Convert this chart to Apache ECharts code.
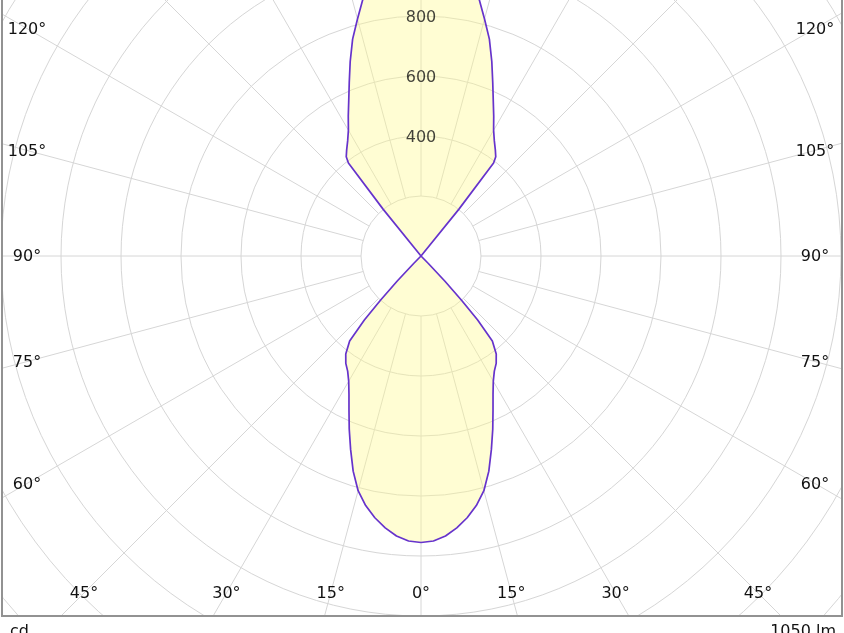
<!DOCTYPE html>
<html lang="en">
<head>
    <meta charset="UTF-8">
    <title>Polar intensity</title>
    <script src="https://cdn.jsdelivr.net/npm/echarts@6/dist/echarts.min.js"></script>
    <style>
        html, body {
            margin: 0;
            padding: 0;
            background: #fff;
        }

        #chart {
            width: 844px;
            height: 633px;
        }
    </style>
</head>
<body>
<div id="chart"></div>
<script>
    // gamma angle from nadir (deg) -> intensity (cd), lower lobe
    const gammaBottom = [0, 2.5, 5, 7.5, 10, 12.5, 15, 17.5, 20, 22.5, 25, 27.5, 30, 32.5, 35, 37.5, 40, 41.5, 42.5, 43.5, 44.5, 45];
    const cdBottom = [955, 951, 937, 914, 886, 852, 810, 752, 686, 625, 568, 520, 482, 455, 437, 412, 370, 285, 200, 115, 35, 0];
    // angle from zenith (deg) -> intensity (cd), upper lobe
    const gammaTop = [0, 2.5, 5, 7.5, 10, 12.5, 15, 17.5, 20, 22.5, 25, 27.5, 30, 32.5, 35, 37, 38, 39, 40];
    const cdTop = [1010, 1006, 995, 975, 950, 885, 818, 758, 690, 625, 570, 525, 484, 455, 432, 414, 393, 200, 0];

    const angleTicks = [0, 15, 30, 45, 60, 75, 90, 105, 120];
    const radiusTicks = [400, 600, 800];
    const unitLeft = 'cd';
    const unitRight = '1050 lm';

    const cx = 421, cy = 256;
    const font = 'DejaVu Sans';

    // closed outline, angle 0 = straight down
    const curve = [];
    gammaBottom.forEach((g, i) => curve.push([cdBottom[i], g]));
    for (let i = gammaTop.length - 1; i >= 0; i--) curve.push([cdTop[i], 180 - gammaTop[i]]);
    gammaTop.forEach((g, i) => curve.push([cdTop[i], 180 + g]));
    for (let i = gammaBottom.length - 1; i >= 0; i--) curve.push([cdBottom[i], 360 - gammaBottom[i]]);

    // angle labels sit on their spoke, where it meets the inner edge of the frame
    const labels = [];
    angleTicks.forEach(a => {
        const sides = a === 0 ? [1] : [-1, 1];
        sides.forEach(s => {
            const dx = Math.sin(a * Math.PI / 180) * s;
            const dy = Math.cos(a * Math.PI / 180);
            let t = Infinity;
            if (Math.abs(dx) > 1e-6) t = Math.min(t, 394 / Math.abs(dx));
            if (dy > 1e-6) t = Math.min(t, 337 / dy);
            labels.push({
                type: 'text', z: 110,
                x: cx + dx * t, y: cy + dy * t + 1,
                style: {
                    text: a + '°', font: '16px "' + font + '"', fill: '#111',
                    textAlign: 'center', textVerticalAlign: 'middle'
                }
            });
        });
    });

    const chart = echarts.init(document.getElementById('chart'));
    chart.setOption({
        animation: false,
        backgroundColor: '#fff',
        textStyle: {fontFamily: font},
        polar: [
            {center: [cx, cy], radius: [60, 600]},
            {center: [cx, cy], radius: [0, 600]}
        ],
        angleAxis: [
            {
                polarIndex: 0, type: 'value', min: 0, max: 360, interval: 15, startAngle: 270,
                axisLine: {show: false}, axisTick: {show: false}, axisLabel: {show: false},
                splitLine: {show: true, lineStyle: {color: '#d6d6d6', width: 1}}
            },
            {
                polarIndex: 1, type: 'value', min: 0, max: 360, interval: 15, startAngle: 270,
                axisLine: {show: false}, axisTick: {show: false}, axisLabel: {show: false},
                splitLine: {show: false}
            }
        ],
        radiusAxis: [
            {
                polarIndex: 0, type: 'value', min: 200, max: 2000, interval: 200,
                axisLine: {show: false}, axisTick: {show: false}, axisLabel: {show: false},
                splitLine: {show: true, lineStyle: {color: '#d6d6d6', width: 1}}
            },
            {
                polarIndex: 1, type: 'value', min: 0, max: 2000, interval: 200,
                axisLine: {show: false}, axisTick: {show: false}, axisLabel: {show: false},
                splitLine: {show: false}
            }
        ],
        series: [
            {
                type: 'line', coordinateSystem: 'polar', polarIndex: 1,
                data: curve, symbol: 'none', smooth: false,
                lineStyle: {color: '#6633cc', width: 1.7, join: 'round'},
                areaStyle: {color: 'rgba(255, 250, 140, 0.55)', origin: 'start'},
                z: 3
            },
            {
                type: 'scatter', coordinateSystem: 'polar', polarIndex: 1,
                data: radiusTicks.map(v => [v, 180]),
                symbolSize: 1, itemStyle: {color: 'rgba(0,0,0,0)'},
                label: {
                    show: true, position: 'inside', color: '#111', fontSize: 16, fontFamily: font,
                    offset: [0, 2],
                    formatter: p => String(p.value[0])
                },
                z: 5
            }
        ],
        graphic: [
            {type: 'rect', z: 100, shape: {x: 0, y: 617, width: 844, height: 20}, style: {fill: '#fff'}},
            {type: 'rect', z: 100, shape: {x: 0, y: 0, width: 1, height: 633}, style: {fill: '#fff'}},
            {type: 'rect', z: 100, shape: {x: 843, y: 0, width: 1, height: 633}, style: {fill: '#fff'}},
            {
                type: 'rect', z: 105, shape: {x: 2, y: -10, width: 840, height: 626},
                style: {fill: 'none', stroke: '#929292', lineWidth: 2}
            },
            {
                type: 'text', z: 110, x: 10, y: 624,
                style: {text: unitLeft, font: '16px "' + font + '"', fill: '#111', textVerticalAlign: 'top'}
            },
            {
                type: 'text', z: 110, x: 836, y: 624,
                style: {
                    text: unitRight, font: '16px "' + font + '"', fill: '#111',
                    textAlign: 'right', textVerticalAlign: 'top'
                }
            }
        ].concat(labels)
    });
</script>
</body>
</html>
